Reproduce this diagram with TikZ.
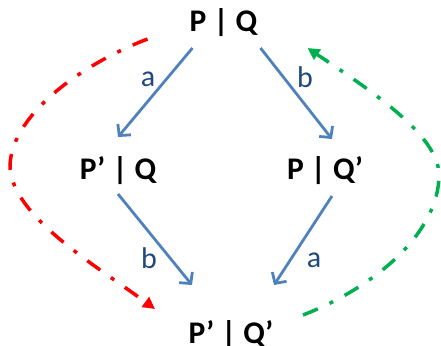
\documentclass[tikz,border=0pt]{standalone}
\usepackage{fontspec}
\setmainfont{Carlito}
\usetikzlibrary{arrows.meta}
\definecolor{arrblue}{HTML}{4F81BD}
\definecolor{lblblue}{HTML}{1F497D}
\definecolor{redd}{HTML}{FF0000}
\definecolor{greenn}{HTML}{00B050}
\tikzset{
  state/.style={anchor=base, inner sep=0pt, font=\fontsize{31.5}{31.5}\selectfont\bfseries},
  lbl/.style={inner sep=0pt, text=lblblue, font=\fontsize{30}{30}\selectfont},
  arr/.style={draw=arrblue, line width=2.8pt, -{Straight Barb[length=8pt,width=17pt,line width=2.8pt]}},
  dashdot/.style={line width=3.5pt, dash pattern=on 16pt off 13pt on 4pt off 13pt},
  redpath/.style={dashdot, draw=redd, -{Triangle[length=12pt,width=12pt,fill=redd]}},
  greenpath/.style={dashdot, draw=greenn, -{Triangle[length=12pt,width=12pt,fill=greenn]}}
}
\begin{document}
\begin{tikzpicture}[x=1pt,y=-1pt]
\useasboundingbox (0,0) rectangle (441,345);
\node[state] (pq) at (223.5,32) {P | Q};
\node[state] (p1) at (118,179) {P’ | Q};
\node[state] (p2) at (325,179) {P | Q’};
\node[state] (p3) at (231,343) {P’ | Q’};
\draw[arr] ([shift={(-31,16)}]pq.base) -- ([shift={(0,-42)}]p1.base);
\draw[arr] ([shift={(37,16)}]pq.base) -- ([shift={(7,-40)}]p2.base);
\draw[arr] ([shift={(0,15)}]p1.base) -- ([shift={(-39,-58)}]p3.base);
\draw[arr] ([shift={(7,17)}]p2.base) -- ([shift={(43,-58)}]p3.base);
\node[lbl] (la1) at (148,79) {a};
\node[lbl] (lb1) at (305,77) {b};
\node[lbl] (lb2) at (149,258) {b};
\node[lbl] (la2) at (314,260) {a};
\draw[redpath] ([shift={(-76,7)}]pq.base) .. controls (80,65) and (12,115) .. (10,165)
  .. controls (10,215) and (95,265) .. ([shift={(-76,-34)}]p3.base);
\draw[greenpath] ([shift={(72,-28)}]p3.base) .. controls (380,285) and (439,230) .. (439,175)
  .. controls (439,135) and (370,90) .. ([shift={(84,16)}]pq.base);
\end{tikzpicture}
\end{document}
